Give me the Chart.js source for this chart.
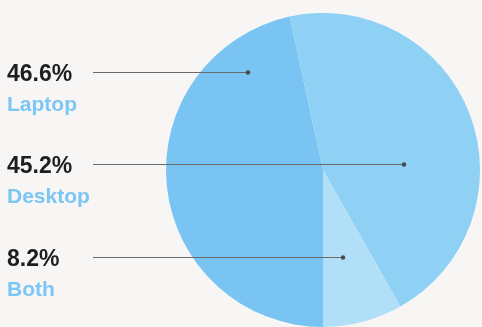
<!DOCTYPE html>
<html>
<head>
<meta charset="utf-8">
<script src="https://cdn.jsdelivr.net/npm/chart.js@4.4.1/dist/chart.umd.min.js"></script>
<style>
  html, body { margin: 0; padding: 0; background: #f7f6f4; }
  #wrap { position: relative; width: 482px; height: 327px; }
</style>
</head>
<body>
<div id="wrap"><canvas id="chart" width="482" height="327"></canvas></div>
<script>
// device usage shares
const categories = ['Laptop', 'Desktop', 'Both'];
const shares = [46.6, 45.2, 8.2];
const sliceColors = ['#79c4f3', '#8fd1f5', '#b1dff8'];

// where each callout sits: text row and how far the leader runs into the pie
const callouts = [
  { lineY: 72, dotX: 248 },
  { lineY: 164, dotX: 404 },
  { lineY: 257, dotX: 343 }
];

const calloutPlugin = {
  id: 'callouts',
  afterDraw(chart) {
    const ctx = chart.ctx;
    ctx.save();
    callouts.forEach((c, i) => {
      // leader line + dot
      ctx.strokeStyle = '#6a6a6a';
      ctx.lineWidth = 1.2;
      ctx.beginPath();
      ctx.moveTo(93, c.lineY + 0.5);
      ctx.lineTo(c.dotX, c.lineY + 0.5);
      ctx.stroke();
      ctx.fillStyle = '#4a4a4a';
      ctx.beginPath();
      ctx.arc(c.dotX, c.lineY + 0.5, 2.2, 0, Math.PI * 2);
      ctx.fill();

      // value and name
      ctx.textBaseline = 'alphabetic';
      ctx.textAlign = 'left';
      ctx.fillStyle = '#1e1e1e';
      ctx.font = 'bold 23px "Liberation Sans", Arial, sans-serif';
      ctx.fillText(shares[i].toFixed(1) + '%', 7, c.lineY + 9);
      ctx.fillStyle = '#7cc6f5';
      ctx.font = 'bold 21px "Liberation Sans", Arial, sans-serif';
      ctx.fillText(categories[i], 7, c.lineY + 39);
    });
    ctx.restore();
  }
};

new Chart(document.getElementById('chart'), {
  type: 'pie',
  data: {
    labels: categories,
    datasets: [{
      data: shares,
      backgroundColor: sliceColors,
      borderWidth: 0
    }]
  },
  options: {
    responsive: false,
    animation: false,
    rotation: 180,
    layout: { padding: { left: 166, right: 2, top: 13, bottom: 0 } },
    plugins: {
      legend: { display: false },
      tooltip: { enabled: false }
    }
  },
  plugins: [calloutPlugin]
});
</script>
</body>
</html>
